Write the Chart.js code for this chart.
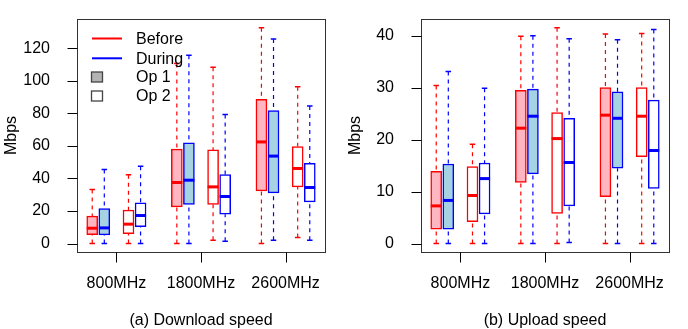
<!DOCTYPE html>
<html>
<head>
<meta charset="utf-8">
<script src="https://cdn.jsdelivr.net/npm/chart.js@4.4.1/dist/chart.umd.min.js"></script>
<style>
  body { margin: 0; background: #fff; width: 688px; height: 329px; overflow: hidden; }
  .panel { position: absolute; top: 0; width: 344px; height: 329px; }
</style>
</head>
<body>
<div class="panel" style="left:0"><canvas id="dlChart" width="344" height="329"></canvas></div>
<div class="panel" style="left:344px"><canvas id="ulChart" width="344" height="329"></canvas></div>
<script>
// ─── Data ───
const groups = ['800MHz', '1800MHz', '2600MHz'];
const groupCenters = [3, 10, 17];
// per group: Op1 Before, Op1 During, Op2 Before, Op2 During
const boxPositions = [1, 2, 4, 5, 8, 9, 11, 12, 15, 16, 18, 19];

// Download speed (Mbps)
const dlMin    = [0, 0, 0, 0,        0, 0, 2.0, 1.4,        0, 2.0, 3.7, 2.0];
const dlQ1     = [5.5, 5.3, 6.1, 10.4, 22.5, 24, 24, 18,    32.3, 31.1, 34.8, 25.6];
const dlMedian = [9.4, 9.6, 11.9, 17.2, 37.5, 38.9, 34.8, 28.9, 62.4, 53.7, 46.1, 34.4];
const dlQ3     = [16.8, 21.5, 20.5, 25, 58, 61.8, 57.5, 42.4, 88.5, 81.7, 59.6, 49.2];
const dlMax    = [33.2, 45.5, 42.2, 47.5, 110.6, 115.7, 108.2, 79.3, 132.5, 125.6, 96.3, 84.4];

// Upload speed (Mbps)
const ulMin    = [0, 0, 0, 0,        0, 0, 0, 0.2,          0, 0, 0, 0];
const ulQ1     = [2.76, 2.76, 4.2, 5.7, 11.75, 13.4, 5.8, 7.25, 9.0, 14.5, 16.7, 10.6];
const ulMedian = [7.25, 8.3, 9.25, 12.5, 22.2, 24.5, 20.2, 15.6, 24.7, 24.1, 24.5, 17.9];
const ulQ3     = [13.9, 15.3, 14.8, 15.5, 29.5, 29.7, 25.2, 24.1, 30.0, 29.2, 30.0, 27.6];
const ulMax    = [30.4, 33.1, 19.1, 29.9, 39.9, 40.0, 41.5, 39.4, 40.3, 39.2, 40.4, 41.2];

const legendLabels = ['Before', 'During', 'Op 1', 'Op 2'];

// ─── Styles ───
const RED = '#ff0000';
const BLUE = '#0000ff';
const fills = ['#ffb6c1', '#a6d3e3', '#ffffff', '#ffffff'];
const strokes = [RED, BLUE, RED, BLUE];
const FONT = "'Liberation Sans', Arial, sans-serif";
const TICK_LEN = 10;

Chart.defaults.font.family = FONT;
Chart.defaults.font.size = 16;
Chart.defaults.color = '#000';

// whiskers + caps behind the boxes, medians on top
const boxplotPlugin = {
    id: 'boxplot',
    beforeDatasetsDraw(chart) {
        const { ctx } = chart;
        const { x, y } = chart.scales;
        const st = chart.options.plugins.boxplot;
        const bars = chart.getDatasetMeta(0).data;
        ctx.save();
        st.mins.forEach((mn, i) => {
            const px = x.getPixelForValue(boxPositions[i]);
            const half = bars[i].width / 4;
            ctx.strokeStyle = strokes[i % 4];
            ctx.lineWidth = 1.2;
            ctx.setLineDash([4, 4]);
            ctx.beginPath();
            ctx.moveTo(px, y.getPixelForValue(st.maxs[i]));
            ctx.lineTo(px, y.getPixelForValue(st.q3s[i]));
            ctx.moveTo(px, y.getPixelForValue(mn));
            ctx.lineTo(px, y.getPixelForValue(st.q1s[i]));
            ctx.stroke();
            ctx.setLineDash([]);
            ctx.lineWidth = 1.5;
            ctx.beginPath();
            [mn, st.maxs[i]].forEach(v => {
                const py = y.getPixelForValue(v);
                ctx.moveTo(px - half, py);
                ctx.lineTo(px + half, py);
            });
            ctx.stroke();
        });
        ctx.restore();
    },
    afterDatasetsDraw(chart) {
        const { ctx } = chart;
        const { y } = chart.scales;
        const st = chart.options.plugins.boxplot;
        const bars = chart.getDatasetMeta(0).data;
        ctx.save();
        ctx.lineWidth = 3;
        st.meds.forEach((m, i) => {
            const b = bars[i];
            const py = y.getPixelForValue(m);
            ctx.strokeStyle = strokes[i % 4];
            ctx.beginPath();
            ctx.moveTo(b.x - b.width / 2, py);
            ctx.lineTo(b.x + b.width / 2, py);
            ctx.stroke();
        });
        ctx.restore();
    },
    afterDraw(chart) {
        const { ctx } = chart;
        const { x, y } = chart.scales;
        const a = chart.chartArea;
        const L = Math.round(a.left) + 0.5, T = Math.round(a.top) + 0.5;
        const R = Math.round(a.right) + 0.5, B = Math.round(a.bottom) + 0.5;
        ctx.save();
        ctx.setLineDash([]);
        ctx.lineWidth = 1;
        // plot frame
        ctx.strokeStyle = '#333';
        ctx.strokeRect(L, T, R - L, B - T);
        // tick marks outside the frame
        ctx.strokeStyle = '#000';
        ctx.beginPath();
        x.ticks.forEach(t => {
            const px = Math.round(x.getPixelForValue(t.value)) + 0.5;
            ctx.moveTo(px, B);
            ctx.lineTo(px, B + TICK_LEN);
        });
        y.ticks.forEach(t => {
            const py = Math.round(y.getPixelForValue(t.value)) + 0.5;
            ctx.moveTo(L - TICK_LEN, py);
            ctx.lineTo(L, py);
        });
        ctx.stroke();
        if (chart.options.plugins.boxplot.legend) drawLegend(ctx);
        ctx.restore();
    }
};

function drawLegend(ctx) {
    const rows = [38.5, 58.3, 77, 96];
    ctx.lineWidth = 2;
    [RED, BLUE].forEach((c, i) => {
        ctx.strokeStyle = c;
        ctx.beginPath();
        ctx.moveTo(92, rows[i]);
        ctx.lineTo(122, rows[i]);
        ctx.stroke();
    });
    ctx.lineWidth = 1.3;
    ctx.strokeStyle = '#444';
    ['#b3b3b3', '#ffffff'].forEach((c, i) => {
        ctx.fillStyle = c;
        ctx.fillRect(91.5, rows[i + 2] - 5, 11, 10);
        ctx.strokeRect(91.5, rows[i + 2] - 5, 11, 10);
    });
    ctx.fillStyle = '#000';
    ctx.font = '16px ' + FONT;
    ctx.textBaseline = 'middle';
    ctx.textAlign = 'left';
    legendLabels.forEach((t, i) => ctx.fillText(t, 136, rows[i] + 1));
}

function makeChart(id, title, yMin, yMax, step, mins, q1s, meds, q3s, maxs, legend) {
    return new Chart(document.getElementById(id), {
        type: 'bar',
        data: {
            datasets: [{
                data: boxPositions.map((p, i) => ({ x: p, y: [q1s[i], q3s[i]] })),
                backgroundColor: boxPositions.map((p, i) => fills[i % 4]),
                borderColor: boxPositions.map((p, i) => strokes[i % 4]),
                borderWidth: 1.5,
                borderSkipped: false,
                barThickness: 11,
                grouped: false,
            }]
        },
        options: {
            responsive: false,
            animation: false,
            layout: { padding: { top: 19, right: 19, left: 0, bottom: 0 } },
            plugins: {
                legend: { display: false },
                tooltip: { enabled: false },
                boxplot: { mins, q1s, meds, q3s, maxs, legend }
            },
            scales: {
                x: {
                    type: 'linear',
                    min: -0.26,
                    max: 20.26,
                    offset: false,
                    afterBuildTicks: s => { s.ticks = groupCenters.map(v => ({ value: v })); },
                    afterFit: s => { s.height = 77; s.paddingLeft = 0; s.paddingRight = 0; },
                    ticks: {
                        callback: v => groups[groupCenters.indexOf(v)],
                        autoSkip: false,
                        maxRotation: 0,
                        padding: 14,
                    },
                    grid: { display: false },
                    border: { display: false },
                    title: { display: true, text: title, font: { size: 16, lineHeight: 1 }, padding: 0 },
                },
                y: {
                    min: yMin,
                    max: yMax,
                    afterFit: s => { s.width = 77; s.paddingTop = 0; s.paddingBottom = 0; },
                    ticks: { stepSize: step, includeBounds: false, padding: 9 + TICK_LEN },
                    grid: { display: false },
                    border: { display: false },
                    title: { display: true, text: 'Mbps', font: { size: 16, lineHeight: 1 }, padding: { top: 4, bottom: 0 } },
                }
            }
        },
        plugins: [boxplotPlugin]
    });
}

makeChart('dlChart', '(a) Download speed', -5.2, 137.9, 20, dlMin, dlQ1, dlMedian, dlQ3, dlMax, true);
makeChart('ulChart', '(b) Upload speed', -1.62, 43.2, 10, ulMin, ulQ1, ulMedian, ulQ3, ulMax, false);
</script>
</body>
</html>
